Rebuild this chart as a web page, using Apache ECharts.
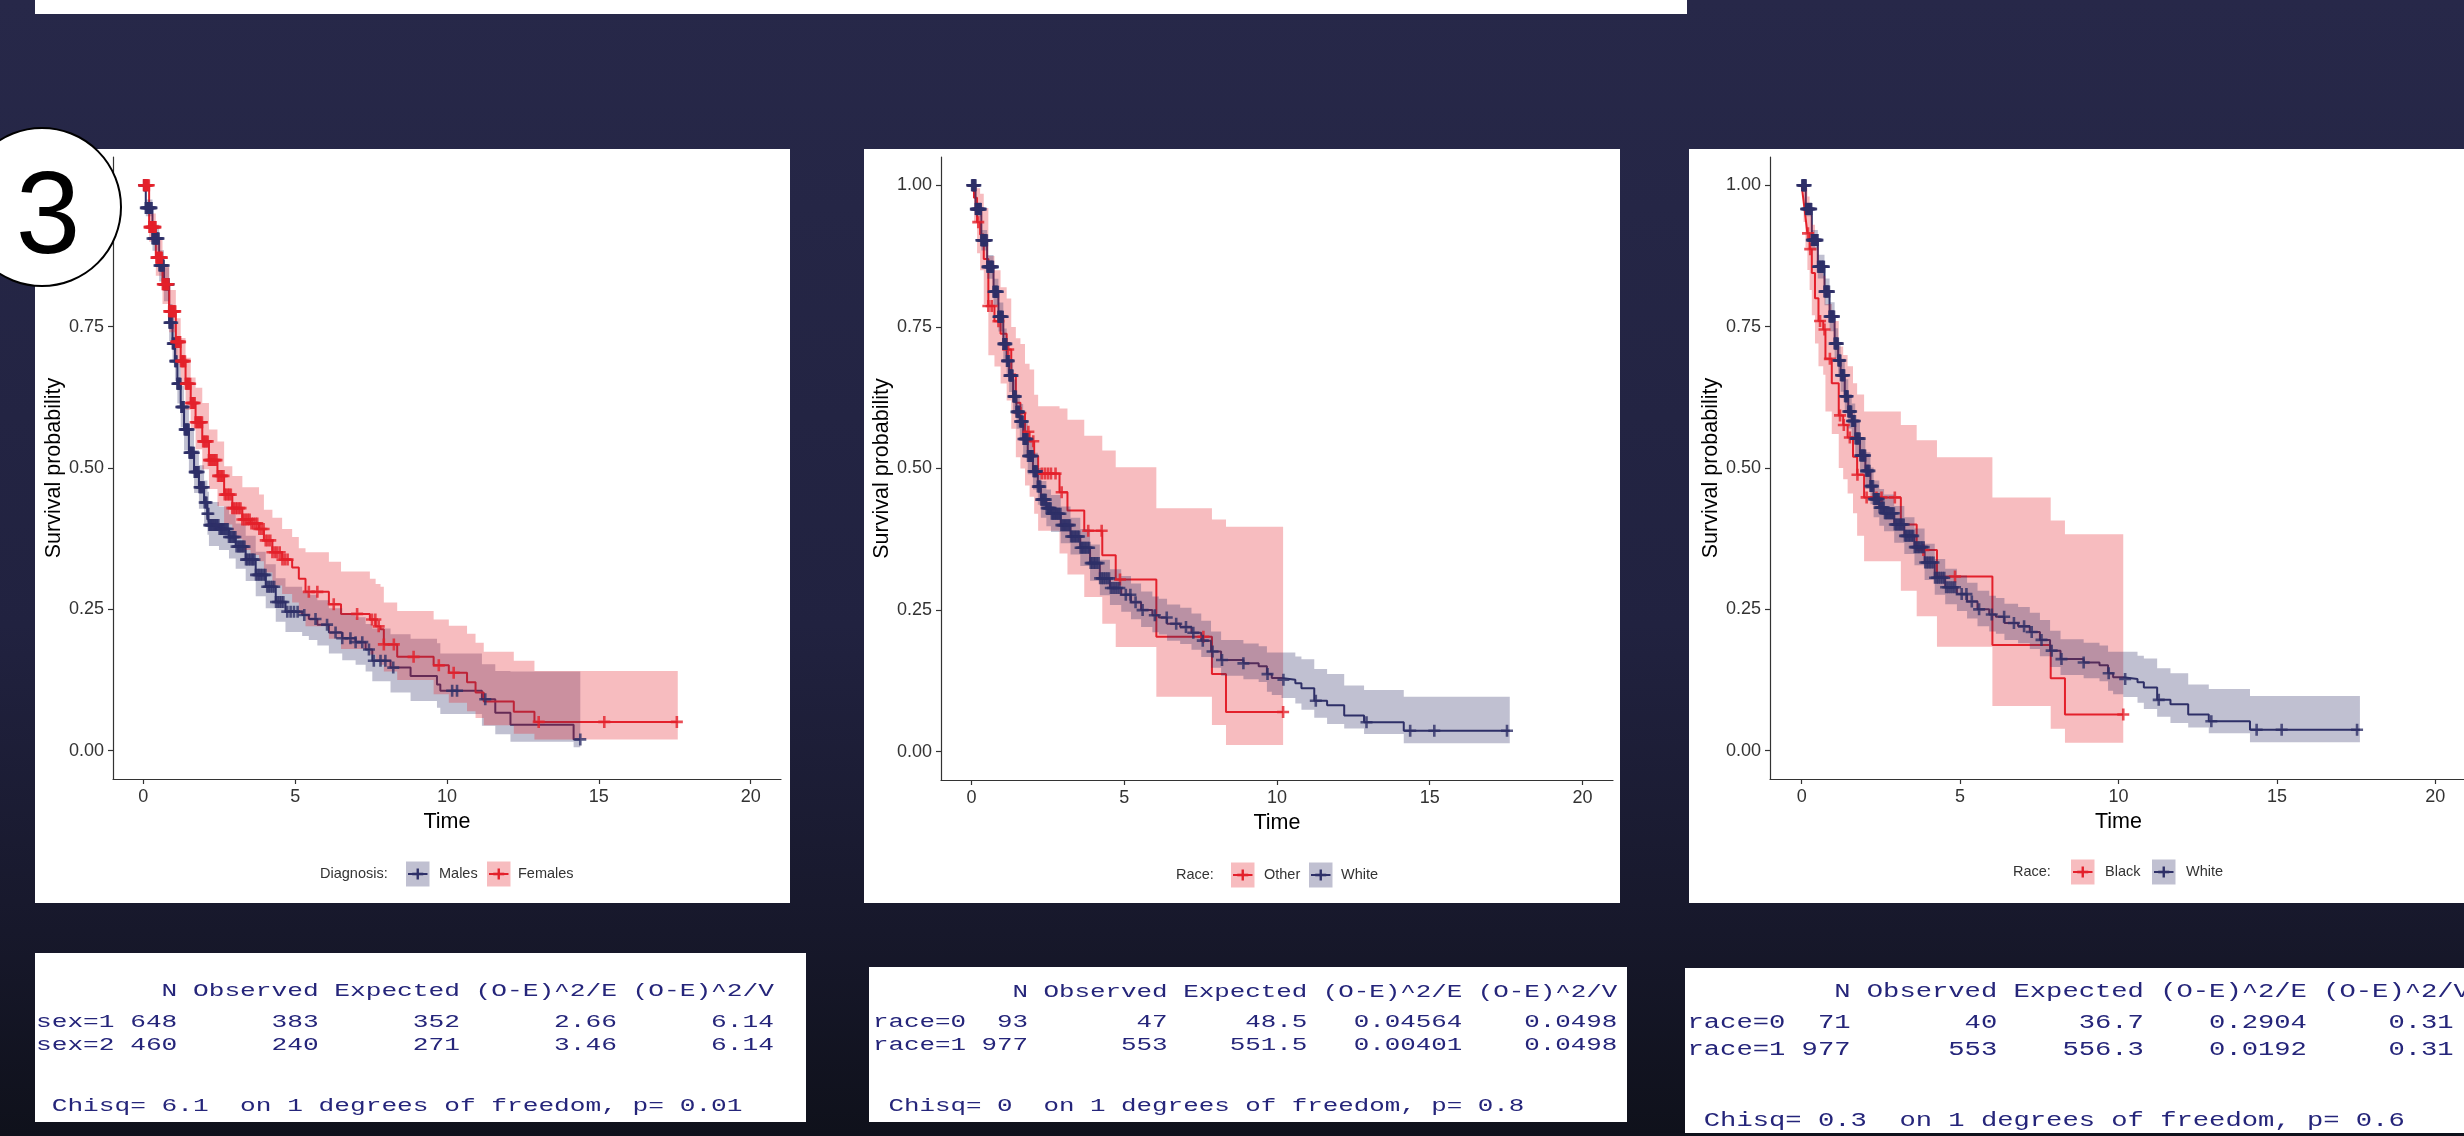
<!DOCTYPE html>
<html><head><meta charset="utf-8">
<script src="https://cdn.jsdelivr.net/npm/echarts@6/dist/echarts.min.js"></script>
<style>html,body{margin:0;padding:0;background:#1d1e36;}#c{width:2464px;height:1136px;}</style>
</head><body><div id="c"></div>
<script>
// ---------------- DATA ----------------
const X_TICKS = [0, 5, 10, 15, 20];
const X_TICK_LABELS = ['0', '5', '10', '15', '20'];
const Y_TICKS = [0, 0.25, 0.5, 0.75, 1];
const Y_TICK_LABELS = ['0.00', '0.25', '0.50', '0.75', '1.00'];
const X_TITLE = 'Time';
const Y_TITLE = 'Survival probability';

// Plot 1 : Diagnosis (sex)
const LEG1_TITLE = 'Diagnosis:';
const LEG1_LABELS = ['Males', 'Females'];
const MALE_T = [0, 0.08, 0.30, 0.52, 0.68, 0.85, 0.96, 1.04, 1.12, 1.23, 1.34, 1.50, 1.67, 1.83, 2.00, 2.11, 2.16, 2.49, 2.82, 3.04, 3.37, 3.70, 4.03, 4.36, 4.68, 5.23, 5.45, 5.73, 6.11, 6.55, 6.99, 7.32, 7.54, 8.14, 8.80, 9.67, 9.78, 11.15, 11.59, 12.09, 14.17];
const MALE_S = [1.0, 0.96, 0.906, 0.858, 0.825, 0.757, 0.72, 0.689, 0.649, 0.608, 0.568, 0.527, 0.493, 0.466, 0.439, 0.419, 0.399, 0.392, 0.378, 0.361, 0.338, 0.311, 0.29, 0.263, 0.246, 0.24, 0.233, 0.223, 0.209, 0.199, 0.192, 0.179, 0.159, 0.147, 0.132, 0.117, 0.106, 0.091, 0.067, 0.046, 0.02];
const MALE_UP = [1.0, 0.975, 0.93, 0.885, 0.855, 0.79, 0.755, 0.725, 0.685, 0.645, 0.606, 0.566, 0.532, 0.505, 0.478, 0.458, 0.44, 0.432, 0.418, 0.402, 0.38, 0.352, 0.33, 0.305, 0.29, 0.283, 0.276, 0.266, 0.252, 0.243, 0.236, 0.224, 0.216, 0.206, 0.198, 0.19, 0.172, 0.153, 0.141, 0.14, 0.14];
const MALE_LO = [1.0, 0.945, 0.884, 0.83, 0.795, 0.724, 0.686, 0.654, 0.614, 0.572, 0.531, 0.49, 0.456, 0.428, 0.402, 0.382, 0.362, 0.355, 0.34, 0.322, 0.3, 0.273, 0.252, 0.228, 0.21, 0.203, 0.196, 0.186, 0.172, 0.16, 0.152, 0.14, 0.123, 0.103, 0.088, 0.076, 0.065, 0.044, 0.029, 0.016, 0.006];
const MALE_END = 14.39;
const MALE_CENSOR = [0.03, 0.045, 0.06, 0.08, 0.1, 0.12, 0.14, 0.165, 0.19, 0.21, 0.23, 0.25, 0.27, 0.3, 0.33, 0.35, 0.37, 0.4, 0.42, 0.44, 0.46, 0.48, 0.5, 0.53, 0.55, 0.58, 0.6, 0.62, 0.64, 0.67, 0.7, 0.72, 0.74, 0.77, 0.79, 0.81, 0.83, 0.86, 0.88, 0.9, 0.92, 0.95, 0.97, 0.99, 1.01, 1.03, 1.05, 1.07, 1.09, 1.12, 1.14, 1.16, 1.18, 1.2, 1.22, 1.25, 1.27, 1.29, 1.31, 1.33, 1.36, 1.38, 1.4, 1.43, 1.45, 1.47, 1.49, 1.52, 1.54, 1.56, 1.58, 1.61, 1.63, 1.66, 1.69, 1.71, 1.74, 1.76, 1.79, 1.82, 1.85, 1.87, 1.9, 1.93, 1.96, 1.99, 2.02, 2.05, 2.08, 2.11, 2.14, 2.17, 2.2, 2.23, 2.26, 2.29, 2.33, 2.36, 2.4, 2.43, 2.47, 2.51, 2.55, 2.58, 2.62, 2.66, 2.7, 2.74, 2.78, 2.82, 2.86, 2.9, 2.95, 2.99, 3.03, 3.07, 3.12, 3.16, 3.2, 3.24, 3.29, 3.33, 3.38, 3.42, 3.47, 3.52, 3.57, 3.61, 3.66, 3.71, 3.76, 3.81, 3.86, 3.91, 3.97, 4.02, 4.08, 4.13, 4.19, 4.25, 4.31, 4.37, 4.43, 4.49, 4.55, 4.61, 4.74, 4.85, 4.96, 5.08, 5.3, 5.67, 6.05, 6.33, 6.55, 6.82, 6.99, 7.21, 7.43, 7.59, 7.81, 7.97, 8.23, 10.17, 10.33, 11.26, 14.39];

const FEM_T = [0, 0.19, 0.41, 0.63, 0.85, 1.07, 1.23, 1.39, 1.56, 1.72, 1.94, 2.16, 2.44, 2.66, 2.93, 3.26, 3.53, 3.81, 3.97, 4.25, 4.57, 4.90, 5.12, 5.34, 6.11, 6.51, 7.46, 7.65, 7.81, 7.92, 8.36, 9.56, 10.06, 10.66, 10.94, 11.21, 12.20, 12.88];
const FEM_S = [1.0, 0.926, 0.872, 0.825, 0.777, 0.723, 0.689, 0.649, 0.615, 0.581, 0.547, 0.514, 0.486, 0.453, 0.429, 0.409, 0.402, 0.392, 0.372, 0.351, 0.338, 0.324, 0.304, 0.281, 0.259, 0.242, 0.232, 0.22, 0.215, 0.188, 0.166, 0.151, 0.138, 0.121, 0.103, 0.087, 0.069, 0.051];
const FEM_UP = [1.0, 0.95, 0.905, 0.86, 0.815, 0.765, 0.73, 0.695, 0.66, 0.642, 0.615, 0.568, 0.547, 0.503, 0.486, 0.466, 0.466, 0.453, 0.426, 0.412, 0.392, 0.378, 0.358, 0.351, 0.334, 0.317, 0.304, 0.295, 0.29, 0.262, 0.247, 0.232, 0.221, 0.207, 0.191, 0.175, 0.159, 0.141];
const FEM_LO = [1.0, 0.90, 0.84, 0.79, 0.74, 0.683, 0.646, 0.603, 0.568, 0.533, 0.498, 0.463, 0.433, 0.40, 0.375, 0.355, 0.346, 0.335, 0.315, 0.292, 0.277, 0.262, 0.242, 0.22, 0.198, 0.18, 0.17, 0.158, 0.152, 0.14, 0.125, 0.10, 0.085, 0.07, 0.058, 0.045, 0.03, 0.02];
const FEM_END = 17.6;
const FEM_CENSOR = [0.02, 0.04, 0.06, 0.085, 0.11, 0.13, 0.15, 0.18, 0.2, 0.22, 0.24, 0.27, 0.29, 0.31, 0.33, 0.36, 0.38, 0.4, 0.43, 0.45, 0.47, 0.5, 0.52, 0.55, 0.57, 0.59, 0.61, 0.64, 0.66, 0.69, 0.71, 0.74, 0.76, 0.78, 0.8, 0.83, 0.85, 0.88, 0.9, 0.93, 0.95, 0.98, 1.0, 1.03, 1.05, 1.08, 1.1, 1.13, 1.16, 1.19, 1.21, 1.24, 1.26, 1.29, 1.31, 1.34, 1.37, 1.4, 1.42, 1.45, 1.48, 1.51, 1.54, 1.57, 1.6, 1.63, 1.66, 1.69, 1.72, 1.76, 1.79, 1.83, 1.86, 1.9, 1.93, 1.97, 2.0, 2.04, 2.08, 2.12, 2.16, 2.2, 2.24, 2.28, 2.32, 2.37, 2.41, 2.46, 2.5, 2.55, 2.59, 2.64, 2.68, 2.73, 2.78, 2.83, 2.88, 2.93, 2.98, 3.04, 3.09, 3.15, 3.2, 3.26, 3.32, 3.38, 3.44, 3.5, 3.56, 3.62, 3.69, 3.75, 3.82, 3.89, 3.96, 4.03, 4.1, 4.18, 4.25, 4.33, 4.4, 4.49, 4.58, 4.66, 4.75, 5.45, 5.73, 6.27, 7.04, 7.53, 7.64, 7.75, 7.92, 8.25, 8.9, 9.73, 10.22, 13.02, 15.18, 17.57];

// Plot 2 : Race (Other / White) ; Plot 3 : Race (Black / White)
const LEG2_TITLE = 'Race:';
const LEG2_LABELS = ['Other', 'White'];
const LEG3_TITLE = 'Race:';
const LEG3_LABELS = ['Black', 'White'];

const OTH_T = [0, 0.08, 0.18, 0.28, 0.40, 0.55, 0.75, 0.95, 1.15, 1.30, 1.45, 1.60, 1.75, 1.90, 2.05, 2.18, 2.88, 3.14, 3.69, 4.28, 4.72, 6.05, 7.87, 8.33];
const OTH_S = [1.0, 0.978, 0.935, 0.913, 0.87, 0.787, 0.76, 0.738, 0.71, 0.666, 0.616, 0.598, 0.565, 0.548, 0.522, 0.491, 0.458, 0.426, 0.39, 0.347, 0.304, 0.203, 0.137, 0.07];
const OTH_UP = [1.0, 1.0, 0.995, 0.985, 0.96, 0.875, 0.85, 0.82, 0.80, 0.75, 0.73, 0.72, 0.685, 0.675, 0.63, 0.61, 0.606, 0.586, 0.558, 0.532, 0.502, 0.43, 0.41, 0.397];
const OTH_LO = [1.0, 0.935, 0.88, 0.85, 0.79, 0.70, 0.68, 0.65, 0.62, 0.57, 0.52, 0.50, 0.47, 0.45, 0.42, 0.39, 0.35, 0.313, 0.273, 0.226, 0.185, 0.097, 0.047, 0.012];
const OTH_END = 10.2;
const OTH_CENSOR = [0.05, 0.22, 0.55, 0.66, 0.88, 1.2, 1.6, 1.86, 2.02, 2.3, 2.4, 2.5, 2.6, 2.75, 2.95, 3.82, 4.26, 4.86, 7.59, 10.2];

const BLK_T = [0, 0.06, 0.12, 0.18, 0.25, 0.32, 0.42, 0.53, 0.68, 0.75, 0.95, 1.17, 1.31, 1.45, 1.62, 1.75, 1.97, 3.13, 3.63, 4.27, 6.02, 7.86, 8.31];
const BLK_S = [1.0, 0.972, 0.944, 0.915, 0.887, 0.845, 0.80, 0.76, 0.745, 0.693, 0.65, 0.593, 0.576, 0.554, 0.52, 0.488, 0.448, 0.40, 0.355, 0.308, 0.187, 0.128, 0.064];
const BLK_UP = [1.0, 1.0, 0.995, 0.98, 0.96, 0.93, 0.89, 0.85, 0.84, 0.79, 0.76, 0.715, 0.70, 0.68, 0.65, 0.63, 0.60, 0.576, 0.549, 0.519, 0.448, 0.407, 0.383];
const BLK_LO = [1.0, 0.935, 0.89, 0.85, 0.815, 0.77, 0.72, 0.68, 0.665, 0.60, 0.56, 0.50, 0.48, 0.455, 0.42, 0.38, 0.335, 0.283, 0.238, 0.184, 0.079, 0.039, 0.014];
const BLK_END = 10.15;
const BLK_CENSOR = [0.2, 0.27, 0.58, 0.72, 0.89, 1.21, 1.33, 1.52, 1.76, 2.05, 2.36, 2.52, 2.94, 3.84, 4.84, 10.15];

const WH_T = [0, 0.13, 0.32, 0.51, 0.72, 0.88, 1.04, 1.15, 1.23, 1.36, 1.47, 1.58, 1.69, 1.84, 2.01, 2.17, 2.27, 2.45, 2.60, 2.92, 3.24, 3.56, 3.88, 4.20, 4.53, 4.90, 5.22, 5.55, 5.92, 6.13, 6.40, 6.83, 7.20, 7.52, 7.84, 8.17, 8.90, 9.40, 9.67, 9.83, 10.15, 10.60, 10.80, 11.22, 11.64, 12.20, 12.85, 14.15];
const WH_S = [1.0, 0.958, 0.903, 0.856, 0.812, 0.768, 0.72, 0.69, 0.664, 0.627, 0.60, 0.583, 0.552, 0.522, 0.495, 0.468, 0.445, 0.43, 0.42, 0.40, 0.38, 0.36, 0.333, 0.306, 0.289, 0.277, 0.264, 0.25, 0.241, 0.237, 0.226, 0.22, 0.21, 0.196, 0.177, 0.162, 0.156, 0.151, 0.137, 0.13, 0.127, 0.121, 0.112, 0.09, 0.082, 0.064, 0.052, 0.037];
const WH_UP = [1.0, 0.97, 0.921, 0.877, 0.835, 0.793, 0.747, 0.718, 0.693, 0.657, 0.631, 0.614, 0.584, 0.555, 0.528, 0.501, 0.478, 0.463, 0.453, 0.433, 0.413, 0.393, 0.366, 0.339, 0.322, 0.31, 0.297, 0.283, 0.274, 0.27, 0.26, 0.254, 0.244, 0.231, 0.212, 0.197, 0.191, 0.186, 0.175, 0.175, 0.175, 0.168, 0.163, 0.146, 0.137, 0.117, 0.109, 0.097];
const WH_LO = [1.0, 0.945, 0.885, 0.835, 0.788, 0.742, 0.693, 0.662, 0.635, 0.597, 0.57, 0.552, 0.521, 0.49, 0.463, 0.436, 0.413, 0.398, 0.388, 0.368, 0.348, 0.328, 0.302, 0.276, 0.259, 0.247, 0.234, 0.22, 0.211, 0.207, 0.196, 0.19, 0.18, 0.167, 0.148, 0.134, 0.128, 0.123, 0.106, 0.1, 0.095, 0.085, 0.074, 0.06, 0.049, 0.041, 0.031, 0.015];
const WH_END = 17.62;
const WH_CENSOR = [0.02, 0.035, 0.05, 0.065, 0.08, 0.095, 0.11, 0.125, 0.14, 0.155, 0.17, 0.185, 0.2, 0.215, 0.23, 0.25, 0.27, 0.285, 0.3, 0.32, 0.34, 0.355, 0.37, 0.39, 0.41, 0.425, 0.44, 0.46, 0.48, 0.5, 0.52, 0.535, 0.55, 0.57, 0.59, 0.61, 0.63, 0.65, 0.67, 0.685, 0.7, 0.72, 0.74, 0.76, 0.78, 0.8, 0.82, 0.84, 0.86, 0.88, 0.9, 0.92, 0.94, 0.96, 0.98, 1.0, 1.02, 1.04, 1.06, 1.08, 1.1, 1.12, 1.14, 1.16, 1.18, 1.2, 1.22, 1.24, 1.26, 1.28, 1.3, 1.32, 1.34, 1.37, 1.39, 1.41, 1.43, 1.45, 1.47, 1.5, 1.52, 1.54, 1.56, 1.59, 1.61, 1.63, 1.65, 1.68, 1.7, 1.73, 1.75, 1.78, 1.8, 1.83, 1.85, 1.88, 1.9, 1.93, 1.95, 1.98, 2.0, 2.03, 2.06, 2.08, 2.11, 2.14, 2.17, 2.2, 2.22, 2.25, 2.28, 2.31, 2.34, 2.37, 2.4, 2.43, 2.46, 2.5, 2.53, 2.56, 2.59, 2.63, 2.66, 2.7, 2.73, 2.77, 2.8, 2.84, 2.87, 2.91, 2.94, 2.98, 3.02, 3.06, 3.1, 3.14, 3.18, 3.22, 3.26, 3.3, 3.34, 3.39, 3.43, 3.48, 3.52, 3.57, 3.61, 3.66, 3.7, 3.75, 3.8, 3.85, 3.9, 3.95, 4.0, 4.05, 4.1, 4.16, 4.21, 4.27, 4.32, 4.38, 4.44, 4.5, 4.56, 4.63, 4.7, 4.77, 4.84, 5.05, 5.2, 5.37, 5.6, 6.0, 6.39, 6.7, 7.02, 7.26, 7.57, 7.89, 8.2, 8.9, 9.69, 10.21, 11.27, 12.93, 14.36, 15.15, 17.53];

// log-rank test outputs
const TABLE1_LINES = [
  '        N Observed Expected (O-E)^2/E (O-E)^2/V',
  'sex=1 648      383      352      2.66      6.14',
  'sex=2 460      240      271      3.46      6.14',
  ' Chisq= 6.1  on 1 degrees of freedom, p= 0.01'
];
const TABLE2_LINES = [
  '         N Observed Expected (O-E)^2/E (O-E)^2/V',
  'race=0  93       47     48.5   0.04564    0.0498',
  'race=1 977      553    551.5   0.00401    0.0498',
  ' Chisq= 0  on 1 degrees of freedom, p= 0.8'
];
const TABLE3_LINES = [
  '         N Observed Expected (O-E)^2/E (O-E)^2/V',
  'race=0  71       40     36.7    0.2904     0.31',
  'race=1 977      553    556.3    0.0192     0.31',
  ' Chisq= 0.3  on 1 degrees of freedom, p= 0.6'
];
const BADGE = '3';

// ---------------- STYLE / LAYOUT ----------------
const FONT = '"Liberation Sans", Arial, sans-serif';
const MONO = '"Liberation Mono", "DejaVu Sans Mono", monospace';
const NAVY = '#2E3068';
const RED = '#E3202B';
const NAVY_BAND = 'rgba(46,48,104,0.3)';
const RED_BAND = 'rgba(227,32,43,0.3)';

const GRIDS = [
  {left: 113, top: 157, width: 668, height: 622},
  {left: 941, top: 157, width: 672, height: 623},
  {left: 1770, top: 157, width: 697, height: 622}
];
const PANELS = [
  {x: 35, y: 149, w: 755, h: 754},
  {x: 864, y: 149, w: 756, h: 754},
  {x: 1689, y: 149, w: 800, h: 754}
];

const male = {T: MALE_T, S: MALE_S, UP: MALE_UP, LO: MALE_LO, END: MALE_END, C: MALE_CENSOR, color: NAVY, band: NAVY_BAND};
const fem = {T: FEM_T, S: FEM_S, UP: FEM_UP, LO: FEM_LO, END: FEM_END, C: FEM_CENSOR, color: RED, band: RED_BAND};
const oth = {T: OTH_T, S: OTH_S, UP: OTH_UP, LO: OTH_LO, END: OTH_END, C: OTH_CENSOR, color: RED, band: RED_BAND};
const blk = {T: BLK_T, S: BLK_S, UP: BLK_UP, LO: BLK_LO, END: BLK_END, C: BLK_CENSOR, color: RED, band: RED_BAND};
const wh = {T: WH_T, S: WH_S, UP: WH_UP, LO: WH_LO, END: WH_END, C: WH_CENSOR, color: NAVY, band: NAVY_BAND};
const PLOT_GROUPS = [[male, fem], [oth, wh], [blk, wh]];

function survAt(T, S, t) {
  let v = S[0];
  for (let i = 0; i < T.length; i++) { if (T[i] <= t) v = S[i]; else break; }
  return v;
}

const series = [];
PLOT_GROUPS.forEach((groups, p) => {
  groups.forEach(g => {
    const d = g.T.map((t, i) => [t, g.S[i]]);
    d.push([g.END, g.S[g.S.length - 1]]);
    series.push({type: 'line', xAxisIndex: p, yAxisIndex: p, step: 'end', data: d, showSymbol: false,
      lineStyle: {color: g.color, width: 2}, z: 2, silent: true, animation: false});
  });
  groups.forEach(g => {
    const data = g.T.map((t, i) => [t, g.LO[i], g.UP[i]]);
    series.push({type: 'custom', xAxisIndex: p, yAxisIndex: p, z: 3, silent: true, data,
      encode: {x: 0, y: [1, 2]},
      renderItem(params, api) {
        if (params.dataIndex !== 0) return null;
        const n = g.T.length, pts = [];
        for (let i = 0; i < n; i++) {
          const t1 = i + 1 < n ? g.T[i + 1] : g.END;
          pts.push(api.coord([g.T[i], g.UP[i]]), api.coord([t1, g.UP[i]]));
        }
        for (let i = n - 1; i >= 0; i--) {
          const t1 = i + 1 < n ? g.T[i + 1] : g.END;
          pts.push(api.coord([t1, g.LO[i]]), api.coord([g.T[i], g.LO[i]]));
        }
        return {type: 'polygon', shape: {points: pts}, style: {fill: g.band}};
      }});
  });
  groups.forEach(g => {
    series.push({type: 'scatter', xAxisIndex: p, yAxisIndex: p, z: 4, silent: true,
      symbol: 'path://M0,5L10,5M5,0L5,10', symbolSize: 12,
      itemStyle: {color: 'rgba(0,0,0,0)', borderColor: g.color, borderWidth: 2.6},
      data: g.C.map(t => [t, survAt(g.T, g.S, t)])});
  });
});

const xAxes = GRIDS.map((g, i) => ({
  type: 'value', gridIndex: i, min: -1, max: 21,
  name: X_TITLE, nameLocation: 'middle', nameGap: 30,
  nameTextStyle: {fontSize: 21.5, color: '#000', fontFamily: FONT},
  axisLine: {onZero: false, lineStyle: {color: '#333', width: 1.2}},
  axisTick: {show: true, customValues: X_TICKS, length: 5, lineStyle: {color: '#333', width: 1.2}},
  axisLabel: {customValues: X_TICKS, fontSize: 18, color: '#333', margin: 9, fontFamily: FONT,
    formatter: v => X_TICK_LABELS[X_TICKS.indexOf(v)]},
  splitLine: {show: false}
}));
const yAxes = GRIDS.map((g, i) => ({
  type: 'value', gridIndex: i, min: -0.05, max: 1.05,
  name: Y_TITLE, nameLocation: 'middle', nameGap: 48, nameRotate: 90,
  nameTextStyle: {fontSize: 21.5, color: '#000', fontFamily: FONT},
  axisLine: {onZero: false, lineStyle: {color: '#333', width: 1.2}},
  axisTick: {show: true, customValues: Y_TICKS, length: 5, lineStyle: {color: '#333', width: 1.2}},
  axisLabel: {customValues: Y_TICKS, fontSize: 18, color: '#333', margin: 9, fontFamily: FONT,
    formatter: v => Y_TICK_LABELS[Y_TICKS.indexOf(v)]},
  splitLine: {show: false}
}));

// ---------------- GRAPHIC (background, panels, legends, tables, badge) ----------------
const graphics = [];
graphics.push({type: 'rect', z: -10, shape: {x: 0, y: 0, width: 2464, height: 1136},
  style: {fill: new echarts.graphic.LinearGradient(0, 0, 0, 1, [
    {offset: 0, color: '#272849'}, {offset: 0.55, color: '#212240'},
    {offset: 0.82, color: '#17182b'}, {offset: 1, color: '#0f111b'}])}});
graphics.push({type: 'rect', z: -5, shape: {x: 35, y: 0, width: 1652, height: 14}, style: {fill: '#fff'}});
PANELS.forEach(p => graphics.push({type: 'rect', z: -5, shape: {x: p.x, y: p.y, width: p.w, height: p.h}, style: {fill: '#fff'}}));

function legend(title, titleX, cy, items) {
  graphics.push({type: 'text', z: 10, x: titleX, y: cy, style: {text: title, font: '14.5px ' + FONT, fill: '#333', verticalAlign: 'middle'}});
  items.forEach(it => {
    const kx = it.kx, ky = cy - 12.5, cx = kx + 11.75;
    graphics.push({type: 'rect', z: 10, shape: {x: kx, y: ky, width: 23.5, height: 25}, style: {fill: it.band}});
    graphics.push({type: 'line', z: 11, shape: {x1: kx + 2, y1: cy, x2: kx + 21.5, y2: cy}, style: {stroke: it.color, lineWidth: 2}});
    graphics.push({type: 'line', z: 11, shape: {x1: cx - 5.5, y1: cy, x2: cx + 5.5, y2: cy}, style: {stroke: it.color, lineWidth: 2.6}});
    graphics.push({type: 'line', z: 11, shape: {x1: cx, y1: cy - 5.5, x2: cx, y2: cy + 5.5}, style: {stroke: it.color, lineWidth: 2.4}});
    graphics.push({type: 'text', z: 10, x: it.tx, y: cy, style: {text: it.label, font: '14.5px ' + FONT, fill: '#333', verticalAlign: 'middle'}});
  });
}
legend(LEG1_TITLE, 320, 874, [
  {kx: 406, tx: 439, label: LEG1_LABELS[0], color: NAVY, band: NAVY_BAND},
  {kx: 487, tx: 518, label: LEG1_LABELS[1], color: RED, band: RED_BAND}]);
legend(LEG2_TITLE, 1176, 875, [
  {kx: 1231, tx: 1264, label: LEG2_LABELS[0], color: RED, band: RED_BAND},
  {kx: 1309, tx: 1341, label: LEG2_LABELS[1], color: NAVY, band: NAVY_BAND}]);
legend(LEG3_TITLE, 2013, 872, [
  {kx: 2071, tx: 2105, label: LEG3_LABELS[0], color: RED, band: RED_BAND},
  {kx: 2152, tx: 2186, label: LEG3_LABELS[1], color: NAVY, band: NAVY_BAND}]);

function table(box, lines, x0, ys, size, scaleX) {
  graphics.push({type: 'rect', z: -5, shape: box, style: {fill: '#fff'}});
  lines.forEach((ln, i) => graphics.push({type: 'text', z: 10, x: x0, y: ys[i], scaleX: scaleX,
    style: {text: ln, font: size + 'px ' + MONO, fill: '#25257a', verticalAlign: 'middle'}}));
}
table({x: 35, y: 953, width: 771, height: 169}, TABLE1_LINES, 36, [991, 1022, 1045, 1106], 19, 1.377);
table({x: 869, y: 967, width: 758, height: 155}, TABLE2_LINES, 873, [992, 1022, 1045, 1106], 19, 1.36);
table({x: 1685, y: 968, width: 800, height: 165}, TABLE3_LINES, 1687.5, [992, 1023, 1050, 1121], 20.5, 1.325);

graphics.push({type: 'circle', z: 50, shape: {cx: 42, cy: 207, r: 79}, style: {fill: '#fff', stroke: '#000', lineWidth: 2}});
graphics.push({type: 'text', z: 51, x: 48, y: 221, style: {text: BADGE, font: '116px ' + FONT, fill: '#000', align: 'center', verticalAlign: 'middle'}});

const chart = echarts.init(document.getElementById('c'), null, {renderer: 'canvas'});
chart.setOption({
  animation: false,
  textStyle: {fontFamily: FONT},
  grid: GRIDS.map(g => Object.assign({containLabel: false, outerBoundsMode: 'none'}, g)),
  xAxis: xAxes,
  yAxis: yAxes,
  series: series,
  graphic: {elements: graphics}
});
</script>
</body></html>
